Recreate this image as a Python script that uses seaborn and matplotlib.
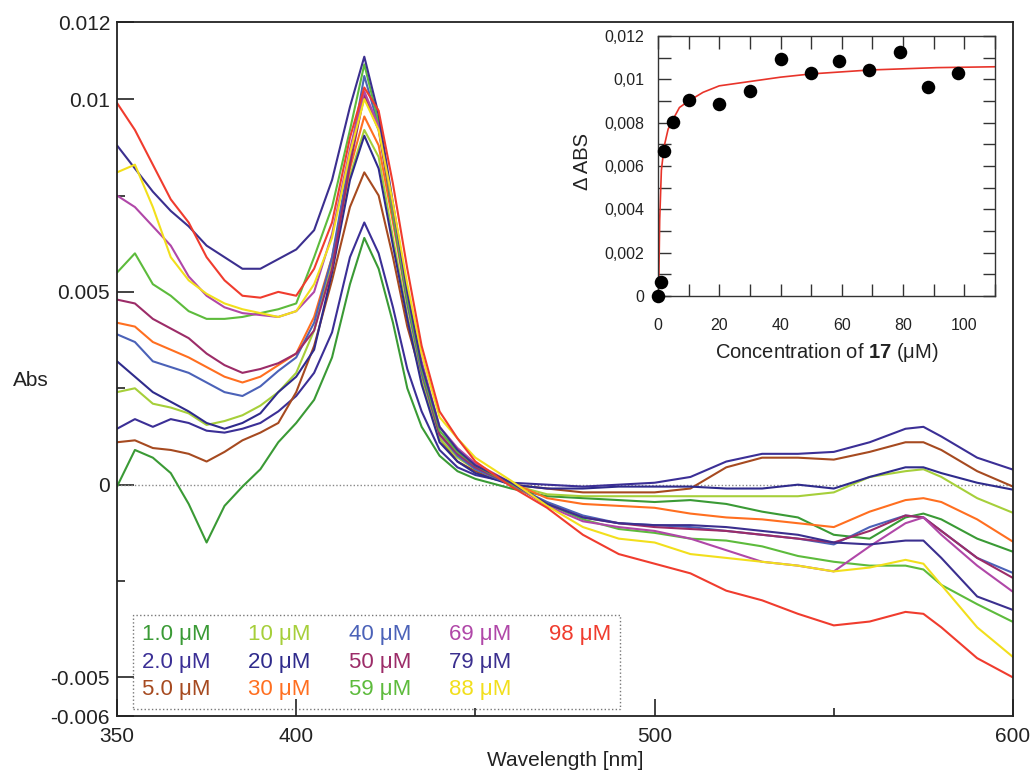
import numpy as np
import pandas as pd
import matplotlib
matplotlib.use("Agg")
import matplotlib.pyplot as plt
import seaborn as sns
from matplotlib.ticker import FixedLocator
from matplotlib.lines import Line2D

# ---------------- data (absorbance in units of 1e-3) ----------------
wavelength = [350, 355, 360, 365, 370, 375, 380, 385, 390, 395, 400, 405, 410, 415,
              419, 423, 427, 431, 435, 440, 445, 450, 460, 470, 480, 490, 500, 510,
              520, 530, 540, 550, 560, 570, 575, 580, 590, 600]

abs_1_0 = [-0.05, 0.9, 0.7, 0.3, -0.5, -1.5, -0.55, -0.05, 0.4, 1.1, 1.6, 2.2, 3.3, 5.2,
           6.4, 5.6, 4.2, 2.5, 1.5, 0.75, 0.35, 0.15, -0.1, -0.3, -0.35, -0.4, -0.45, -0.4,
           -0.5, -0.7, -0.85, -1.3, -1.4, -0.85, -0.75, -0.9, -1.4, -1.74]
abs_2_0 = [1.45, 1.7, 1.5, 1.7, 1.6, 1.4, 1.35, 1.45, 1.6, 1.9, 2.3, 2.9, 3.95, 5.9,
           6.8, 6.0, 4.6, 3.0, 1.9, 0.9, 0.45, 0.25, 0.05, 0.0, -0.05, 0.0, 0.05, 0.2,
           0.6, 0.8, 0.8, 0.85, 1.1, 1.45, 1.5, 1.25, 0.7, 0.39]
abs_5_0 = [1.1, 1.15, 0.95, 0.9, 0.8, 0.6, 0.85, 1.15, 1.35, 1.6, 2.4, 3.6, 5.3, 7.2,
           8.1, 7.5, 5.9, 4.1, 2.8, 1.2, 0.6, 0.35, 0.0, -0.1, -0.2, -0.2, -0.2, -0.1,
           0.45, 0.7, 0.7, 0.65, 0.85, 1.1, 1.1, 0.9, 0.35, -0.05]
abs_10 = [2.4, 2.5, 2.1, 2.0, 1.85, 1.55, 1.65, 1.8, 2.05, 2.4, 2.9, 4.0, 5.8, 8.0,
          9.2, 8.5, 6.4, 4.4, 2.7, 1.2, 0.7, 0.4, 0.0, -0.25, -0.3, -0.3, -0.3, -0.3,
          -0.3, -0.3, -0.3, -0.2, 0.2, 0.35, 0.4, 0.2, -0.35, -0.73]
abs_20 = [3.2, 2.8, 2.4, 2.15, 1.9, 1.6, 1.45, 1.6, 1.85, 2.4, 2.8, 3.5, 5.5, 7.9,
          9.05, 8.2, 6.2, 4.3, 2.6, 1.1, 0.6, 0.3, 0.0, -0.1, -0.1, -0.05, -0.05, -0.05,
          -0.1, -0.1, 0.0, -0.1, 0.2, 0.45, 0.45, 0.3, 0.05, -0.13]
abs_30 = [4.2, 4.1, 3.7, 3.5, 3.3, 3.05, 2.8, 2.65, 2.8, 3.1, 3.4, 4.35, 5.9, 8.2,
          9.55, 8.8, 6.8, 4.7, 2.9, 1.3, 0.8, 0.45, 0.05, -0.35, -0.5, -0.55, -0.6, -0.75,
          -0.85, -0.9, -1.0, -1.1, -0.7, -0.4, -0.35, -0.45, -0.9, -1.48]
abs_40 = [3.9, 3.7, 3.2, 3.05, 2.9, 2.65, 2.4, 2.3, 2.55, 2.95, 3.3, 4.2, 5.9, 8.5,
          10.6, 9.3, 7.0, 4.7, 2.9, 1.3, 0.75, 0.4, 0.0, -0.45, -0.8, -1.0, -1.05, -1.1,
          -1.2, -1.3, -1.4, -1.55, -1.1, -0.8, -0.85, -1.2, -1.9, -2.29]
abs_50 = [4.8, 4.7, 4.3, 4.05, 3.8, 3.4, 3.1, 2.9, 3.0, 3.15, 3.4, 4.0, 5.6, 8.3,
          10.1, 9.2, 7.0, 4.8, 3.0, 1.3, 0.8, 0.45, 0.0, -0.5, -0.85, -1.0, -1.1, -1.15,
          -1.2, -1.3, -1.4, -1.5, -1.2, -0.8, -0.85, -1.2, -1.9, -2.42]
abs_59 = [5.5, 6.0, 5.2, 4.9, 4.5, 4.3, 4.3, 4.35, 4.45, 4.55, 4.7, 5.9, 7.2, 9.2,
          10.9, 9.4, 7.0, 4.8, 3.0, 1.4, 0.85, 0.5, 0.0, -0.5, -0.9, -1.15, -1.25, -1.4,
          -1.45, -1.6, -1.85, -2.0, -2.1, -2.1, -2.2, -2.6, -3.1, -3.56]
abs_69 = [7.5, 7.2, 6.7, 6.2, 5.4, 4.9, 4.6, 4.45, 4.4, 4.35, 4.5, 5.0, 6.5, 8.7,
          10.2, 9.3, 7.2, 5.0, 3.2, 1.5, 0.95, 0.55, 0.05, -0.55, -0.95, -1.1, -1.2, -1.4,
          -1.7, -2.0, -2.1, -2.25, -1.6, -1.0, -0.85, -1.3, -2.1, -2.78]
abs_79 = [8.8, 8.2, 7.6, 7.1, 6.7, 6.2, 5.9, 5.6, 5.6, 5.85, 6.1, 6.6, 7.9, 9.8,
          11.1, 9.6, 7.3, 5.0, 3.1, 1.5, 0.9, 0.5, 0.05, -0.5, -0.85, -1.0, -1.05, -1.05,
          -1.1, -1.2, -1.3, -1.5, -1.55, -1.45, -1.45, -1.9, -2.9, -3.25]
abs_88 = [8.1, 8.3, 7.2, 5.9, 5.3, 4.95, 4.7, 4.55, 4.45, 4.35, 4.5, 5.2, 6.4, 8.6,
          10.0, 9.2, 7.3, 5.2, 3.4, 1.75, 1.2, 0.7, 0.1, -0.55, -1.1, -1.4, -1.5, -1.8,
          -1.9, -2.0, -2.1, -2.25, -2.15, -1.95, -2.05, -2.6, -3.7, -4.47]
abs_98 = [9.9, 9.2, 8.3, 7.4, 6.8, 5.9, 5.3, 4.9, 4.85, 5.0, 4.9, 5.6, 6.8, 9.0,
          10.3, 9.7, 7.8, 5.6, 3.6, 1.9, 1.2, 0.6, -0.05, -0.6, -1.3, -1.8, -2.05, -2.3,
          -2.75, -3.0, -3.35, -3.65, -3.55, -3.3, -3.35, -3.7, -4.5, -5.0]

conc_labels = ["1.0 μM", "2.0 μM", "5.0 μM", "10 μM", "20 μM", "30 μM", "40 μM",
               "50 μM", "59 μM", "69 μM", "79 μM", "88 μM", "98 μM"]
conc_colors = ["#3a9a35", "#3b2f96", "#a64a20", "#a6cf3a", "#2f2b8c", "#ff6f20", "#4b62b8",
               "#9c2c68", "#5dbb3c", "#b047a8", "#3b2f8f", "#f2df1c", "#f03c2e"]
series = [abs_1_0, abs_2_0, abs_5_0, abs_10, abs_20, abs_30, abs_40,
          abs_50, abs_59, abs_69, abs_79, abs_88, abs_98]

yticks_main = [-0.006, -0.005, 0.0, 0.005, 0.01, 0.012]
yticklabels_main = ["-0.006", "-0.005", "0", "0.005", "0.01", "0.012"]
xticks_main = [350, 400, 500, 600]

# inset: titration
ins_conc = [0, 1.0, 2.0, 5.0, 10, 20, 30, 40, 50, 59, 69, 79, 88, 98]
ins_dabs = [0.0, 0.00065, 0.0067, 0.00805, 0.00905, 0.00885, 0.00948, 0.01094,
            0.01031, 0.01083, 0.01042, 0.01125, 0.00963, 0.01029]
fit_conc = [0, 0.3, 0.55, 1.1, 2.0, 3.3, 5.1, 7, 10, 14.7, 20, 30, 40, 50, 69, 91, 110]
fit_dabs = [0.0, 0.00105, 0.0035, 0.0058, 0.0069, 0.0077, 0.0082, 0.0087, 0.0090,
            0.0094, 0.0097, 0.0099, 0.0101, 0.01025, 0.01043, 0.01054, 0.01058]
ins_yticks = [0, 0.002, 0.004, 0.006, 0.008, 0.01, 0.012]
ins_yticklabels = ["0", "0,002", "0,004", "0,006", "0,008", "0,01", "0,012"]

# ---------------- build long table ----------------
rows = []
for lab, vals in zip(conc_labels, series):
    for w, v in zip(wavelength, vals):
        rows.append((lab, w, v / 1000.0))
df = pd.DataFrame(rows, columns=["conc", "wl", "abs"])

sns.set_theme(style="white")
plt.rcParams["font.family"] = ["Liberation Sans", "DejaVu Sans"]
plt.rcParams["mathtext.fontset"] = "custom"
plt.rcParams["mathtext.rm"] = "Liberation Sans"
plt.rcParams["mathtext.bf"] = "Liberation Sans:bold"

fig = plt.figure(figsize=(10.32, 7.76), dpi=100)
W, H = 1032, 776
ax = fig.add_axes([117 / W, 1 - 716 / H, (1013 - 117) / W, (716 - 22) / H])

ax.axhline(0, color="#888888", lw=1.0, ls=(0, (1, 1.5)), zorder=1)
sns.lineplot(data=df, x="wl", y="abs", hue="conc", hue_order=conc_labels,
             palette=dict(zip(conc_labels, conc_colors)), estimator=None,
             sort=False, lw=1.5, legend=False, ax=ax, zorder=2)

ax.set_xlim(350, 600)
ax.set_ylim(-0.006, 0.012)
ax.set_xticks(xticks_main)
ax.set_xticklabels([str(t) for t in xticks_main])
ax.xaxis.set_minor_locator(FixedLocator([450, 550]))
ax.set_yticks(yticks_main)
ax.set_yticklabels(yticklabels_main)
ax.yaxis.set_minor_locator(FixedLocator([-0.0025, 0.0025, 0.0075]))
ax.tick_params(axis="both", which="major", direction="in", length=12, width=1.2,
               color="#222222", labelsize=15, labelcolor="#222222")
ax.tick_params(axis="both", which="minor", direction="in", length=6, width=1.2,
               color="#222222")
ax.tick_params(axis="y", which="both", left=True, right=False, pad=5)
ax.tick_params(axis="x", which="both", bottom=True, top=False, pad=8)
for s in ax.spines.values():
    s.set_color("#222222")
    s.set_linewidth(1.3)
ax.set_xlabel("Wavelength [nm]", fontsize=15, color="#222222")
ax.xaxis.set_label_coords((565 - 117) / 896, (716 - 760) / 694)
ax.xaxis.label.set_va("center")
ax.set_ylabel("")
fig.text(31 / W, 1 - 380 / H, "Abs", ha="center", va="center", fontsize=15, color="#222222")

# legend: coloured text only, 3 rows x 5 columns (last column holds 98 µM alone)
handles = list(ax.get_lines()[1:])
labels = list(conc_labels)
blank = Line2D([], [], alpha=0)
handles += [blank, blank]
labels += ["", ""]
leg = ax.legend(handles, labels, ncol=5, loc="upper left",
                bbox_to_anchor=((133 - 117) / 896, (716 - 615) / 694),
                borderaxespad=0, handlelength=0, handletextpad=0,
                columnspacing=1.7, labelspacing=0.3, borderpad=0.4,
                fontsize=16, frameon=True, fancybox=False)
for h in leg.legend_handles:
    h.set_visible(False)
for t, c in zip(leg.get_texts(), conc_colors):
    t.set_color(c)
fr = leg.get_frame()
fr.set_linestyle(":")
fr.set_edgecolor("#555555")
fr.set_linewidth(1.0)
fr.set_facecolor("none")

# ---------------- inset ----------------
ia = fig.add_axes([658 / W, 1 - 296 / H, (995 - 658) / W, (296 - 36) / H])
ia.set_facecolor("white")
sns.lineplot(x=fit_conc, y=fit_dabs, color="#e8342a", lw=1.2, ax=ia, zorder=2)
sns.scatterplot(x=ins_conc, y=ins_dabs, color="black", s=95, edgecolor="black",
                linewidth=0, ax=ia, zorder=3, clip_on=False)
ia.set_xlim(0, 110)
ia.set_ylim(0, 0.012)
ia.set_xticks([0, 20, 40, 60, 80, 100])
ia.set_xticklabels(["0", "20", "40", "60", "80", "100"])
ia.xaxis.set_minor_locator(FixedLocator([10, 30, 50, 70, 90, 110]))
ia.set_yticks(ins_yticks)
ia.set_yticklabels(ins_yticklabels)
ia.yaxis.set_minor_locator(FixedLocator([0.001, 0.003, 0.005, 0.007, 0.009, 0.011]))
ia.tick_params(axis="both", which="both", direction="in", length=9, width=1.0,
               color="#333333", top=True, right=True, left=True, bottom=True,
               labelsize=11.5, labelcolor="#222222")
ia.tick_params(axis="x", which="both", pad=16)
ia.tick_params(axis="y", which="both", pad=10)
for s in ia.spines.values():
    s.set_color("#333333")
    s.set_linewidth(1.0)
ia.set_xlabel(r"Concentration of $\mathbf{17}$ (μM)", fontsize=14.5, color="#222222")
ia.xaxis.set_label_coords((827 - 658) / 337, (296 - 353) / 260)
ia.xaxis.label.set_va("center")
ia.set_ylabel("Δ ABS", fontsize=14.5, color="#222222")
ia.yaxis.set_label_coords((582 - 658) / 337, (296 - 162) / 260)
ia.yaxis.label.set_va("center")

fig.savefig("out.png", dpi=100)
